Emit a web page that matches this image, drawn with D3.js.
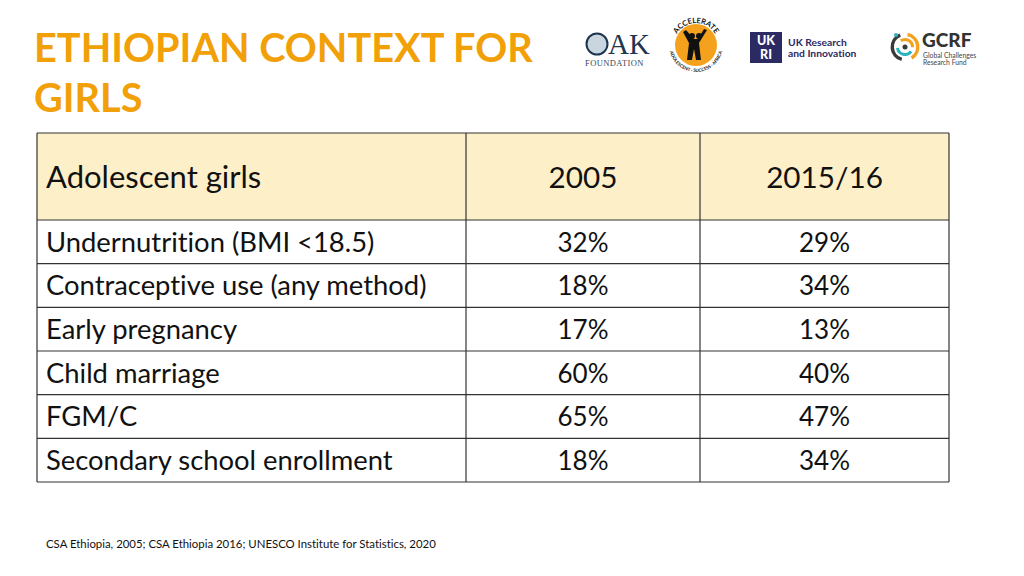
<!DOCTYPE html>
<html>
<head>
<meta charset="utf-8">
<script src="https://cdn.jsdelivr.net/npm/d3@7"></script>
<style>
  html, body { margin: 0; padding: 0; background: #fff; }
  svg { display: block; }
  text { font-variant-ligatures: none; }
</style>
</head>
<body>
<svg id="chart" width="1024" height="576"></svg>
<script>
// ---- data ----
const titleLines = ["ETHIOPIAN CONTEXT FOR", "GIRLS"];
const headers = ["Adolescent girls", "2005", "2015/16"];
const indicators = [
  "Undernutrition (BMI <18.5)",
  "Contraceptive use (any method)",
  "Early pregnancy",
  "Child marriage",
  "FGM/C",
  "Secondary school enrollment"
];
const values2005 = [32, 18, 17, 60, 65, 18];
const values2015 = [29, 34, 13, 40, 47, 34];
const sourceNote = "CSA Ethiopia, 2005; CSA Ethiopia 2016; UNESCO Institute for Statistics, 2020";

const FONT = "Lato, 'Open Sans', sans-serif";
const svg = d3.select("#chart");

// ---- title ----
svg.append("g").selectAll("text").data(titleLines).join("text")
  .attr("x", 34)
  .attr("y", (d, i) => 62 + i * 50)
  .attr("font-family", FONT)
  .attr("font-weight", 700)
  .attr("font-size", 39.7)
  .attr("fill", "#F2A008")
  .text(d => d);

// ---- table layout ----
const colEdges = [37, 466, 700, 949];
const headerTop = 133, headerBottom = 220, tableBottom = 482;
const rowScale = d3.scaleBand().domain(d3.range(indicators.length))
  .range([headerBottom, tableBottom]).padding(0);

const table = svg.append("g");
// header fill
table.append("rect")
  .attr("x", colEdges[0]).attr("y", headerTop)
  .attr("width", colEdges[3] - colEdges[0]).attr("height", headerBottom - headerTop)
  .attr("fill", "#FDF0C9");

// header text
headers.forEach((h, i) => {
  const left = i === 0;
  table.append("text")
    .attr("x", left ? 46 : (colEdges[i] + colEdges[i + 1]) / 2)
    .attr("y", (headerTop + headerBottom) / 2 + 11)
    .attr("text-anchor", left ? "start" : "middle")
    .attr("font-family", FONT)
    .attr("font-size", left ? 31 : 29.7)
    .attr("fill", "#111")
    .text(h);
});

// body rows
const rowY = i => rowScale(i) + rowScale.bandwidth() / 2 + 9.7;
const rows = table.selectAll("g.row").data(indicators).join("g").attr("class", "row");
rows.append("text")
  .attr("x", 46)
  .attr("y", (d, i) => rowY(i))
  .attr("font-family", FONT).attr("font-size", 27.4).attr("fill", "#111")
  .text(d => d);
rows.append("text")
  .attr("x", (colEdges[1] + colEdges[2]) / 2)
  .attr("y", (d, i) => rowY(i))
  .attr("text-anchor", "middle")
  .attr("font-family", FONT).attr("font-size", 26).attr("fill", "#111")
  .text((d, i) => values2005[i] + "%");
rows.append("text")
  .attr("x", (colEdges[2] + colEdges[3]) / 2)
  .attr("y", (d, i) => rowY(i))
  .attr("text-anchor", "middle")
  .attr("font-family", FONT).attr("font-size", 26).attr("fill", "#111")
  .text((d, i) => values2015[i] + "%");

// grid lines
const hLines = [headerTop, headerBottom].concat(d3.range(1, indicators.length).map(i => rowScale(i)), [tableBottom]);
table.selectAll("line.h").data(hLines).join("line").attr("class", "h")
  .attr("x1", colEdges[0]).attr("x2", colEdges[3])
  .attr("y1", d => d).attr("y2", d => d)
  .attr("stroke", "#333").attr("stroke-width", 1.2);
table.selectAll("line.v").data(colEdges).join("line").attr("class", "v")
  .attr("x1", d => d).attr("x2", d => d)
  .attr("y1", headerTop).attr("y2", tableBottom)
  .attr("stroke", "#333").attr("stroke-width", 1.2);

// ---- source note ----
svg.append("text")
  .attr("x", 46).attr("y", 548)
  .attr("font-family", FONT).attr("font-size", 11.4).attr("fill", "#111")
  .text(sourceNote);

// ---- logos ----
const logos = svg.append("g");
// OAK Foundation
logos.append("circle").attr("cx", 597).attr("cy", 44).attr("r", 10.5)
  .attr("fill", "#C9D6E0").attr("stroke", "#1E3550").attr("stroke-width", 2);
logos.append("text").attr("x", 608).attr("y", 54)
  .attr("font-family", "'Liberation Serif', 'DejaVu Serif', serif").attr("font-size", 29)
  .attr("fill", "#1E3550").text("AK");
logos.append("text").attr("x", 585).attr("y", 66)
  .attr("font-family", "'Liberation Serif', serif").attr("font-size", 8.5)
  .attr("fill", "#3A4A5A").attr("letter-spacing", 0.4).text("FOUNDATION");

// Accelerate
const ac = logos.append("g").attr("transform", "translate(696,45)");
ac.append("circle").attr("r", 21).attr("fill", "#F4A21E");
ac.append("path").attr("id", "arcTop")
  .attr("d", "M -22,0 A 22,22 0 0,1 22,0").attr("fill", "none");
ac.append("text").attr("font-family", FONT).attr("font-size", 7.5).attr("font-weight", 700)
  .attr("fill", "#111")
  .append("textPath").attr("href", "#arcTop").attr("startOffset", "50%")
  .attr("text-anchor", "middle").text("ACCELERATE");
ac.append("path").attr("id", "arcBot")
  .attr("d", "M -27,0 A 27,27 0 0,0 27,0").attr("fill", "none");
ac.append("text").attr("font-family", FONT).attr("font-size", 4.5).attr("font-weight", 700)
  .attr("fill", "#111")
  .append("textPath").attr("href", "#arcBot").attr("startOffset", "50%")
  .attr("text-anchor", "middle").text("ADOLESCENT · SUCCESS · AFRICA");
// figures silhouettes
ac.append("path")
  .attr("d", "M -13,-13 L -7,-2 L -9,15 L -4,15 L -2,4 L 0,15 L 5,15 L 3,-2 L 11,-15 L 8,-16 L 2,-6 L -2,-6 L -10,-15 Z")
  .attr("fill", "#111");
ac.append("circle").attr("cx", -4).attr("cy", -9).attr("r", 3).attr("fill", "#111");
ac.append("circle").attr("cx", 3).attr("cy", -9).attr("r", 3).attr("fill", "#111");

// UKRI
logos.append("rect").attr("x", 750).attr("y", 32).attr("width", 32).attr("height", 31).attr("fill", "#2C2A63");
logos.append("text").attr("x", 766).attr("y", 45).attr("text-anchor", "middle")
  .attr("font-family", FONT).attr("font-weight", 900).attr("font-size", 12.5).attr("fill", "#fff").text("UK");
logos.append("text").attr("x", 766).attr("y", 59).attr("text-anchor", "middle")
  .attr("font-family", FONT).attr("font-weight", 900).attr("font-size", 12.5).attr("fill", "#fff").text("RI");
logos.append("text").attr("x", 788).attr("y", 46)
  .attr("font-family", FONT).attr("font-weight", 700).attr("font-size", 10.3).attr("fill", "#2C2A63").text("UK Research");
logos.append("text").attr("x", 788).attr("y", 57)
  .attr("font-family", FONT).attr("font-weight", 700).attr("font-size", 10.3).attr("fill", "#2C2A63").text("and Innovation");

// GCRF
const gc = logos.append("g").attr("transform", "translate(905,47)");
const arc = d3.arc();
gc.append("path").attr("d", arc({innerRadius: 11, outerRadius: 14.5, startAngle: 0.2, endAngle: 2.6})).attr("fill", "#F4A21E");
gc.append("path").attr("d", arc({innerRadius: 11, outerRadius: 14.5, startAngle: 3.4, endAngle: 5.9})).attr("fill", "#3A3A3A");
gc.append("path").attr("d", arc({innerRadius: 6, outerRadius: 9, startAngle: 2.2, endAngle: 4.6})).attr("fill", "#2BB3C0");
gc.append("path").attr("d", arc({innerRadius: 6, outerRadius: 9, startAngle: -0.6, endAngle: 1.6})).attr("fill", "#F4A21E");
gc.append("circle").attr("r", 2.5).attr("fill", "#3A3A3A");
gc.append("circle").attr("cx", -9).attr("cy", -12).attr("r", 2).attr("fill", "#2BB3C0");
logos.append("text").attr("x", 922).attr("y", 47)
  .attr("font-family", FONT).attr("font-weight", 900).attr("font-size", 19).attr("fill", "#333").text("GCRF");
logos.append("text").attr("x", 923).attr("y", 57.5)
  .attr("font-family", FONT).attr("font-size", 6.8).attr("fill", "#444").text("Global Challenges");
logos.append("text").attr("x", 923).attr("y", 64.5)
  .attr("font-family", FONT).attr("font-size", 6.8).attr("fill", "#444").text("Research Fund");
</script>
</body>
</html>
